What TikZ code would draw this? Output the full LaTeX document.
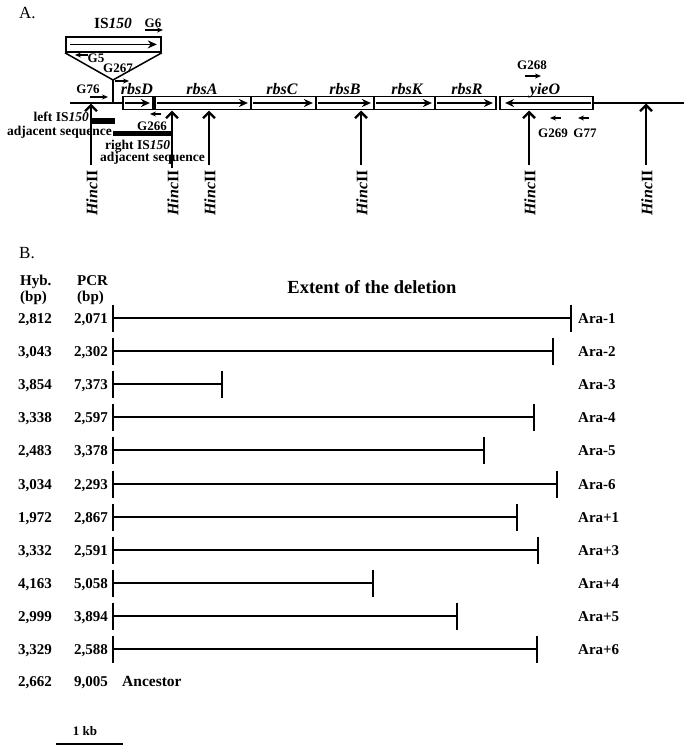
\documentclass[tikz,border=0pt]{standalone}
\usepackage{fontspec}
\setmainfont{Liberation Serif}
\usetikzlibrary{arrows.meta}
\begin{document}
\begin{tikzpicture}[x=1pt,y=-1pt,
  txt/.style={font=\bfseries\fontsize{15}{15}\selectfont, inner sep=0pt},
  ann/.style={font=\bfseries\fontsize{13.5}{13.5}\selectfont, inner sep=0pt},
  prim/.style={font=\bfseries\fontsize{13}{13}\selectfont, inner sep=0pt},
  genelbl/.style={font=\bfseries\itshape\fontsize{16}{16}\selectfont, inner sep=0pt},
  hinclbl/.style={font=\bfseries\fontsize{16}{16}\selectfont, inner sep=0pt, rotate=90},
  genebox/.style={draw, line width=1.8pt, fill=white, minimum height=13pt, inner sep=0pt},
  genearrow/.style={-{Stealth[length=9pt,width=8pt]}, line width=1.4pt},
  primarrow/.style={-{Stealth[length=6pt,width=5pt]}, line width=1.1pt},
  hinc/.style={-{Straight Barb[length=6pt,width=12pt]}, line width=2.4pt},
  chrom/.style={line width=1.8pt},
  del/.style={line width=2pt},
  tickmark/.style={line width=2.6pt}]
\useasboundingbox (0,0) rectangle (691,750);

% ---------------- Section A ----------------
\node[font=\fontsize{17}{17}\selectfont, inner sep=0pt, anchor=base west] (labA) at (19,18) {A.};

% IS150 box and insertion
\node[draw, line width=1.8pt, minimum width=95pt, minimum height=15pt, inner sep=0pt, anchor=north west] (isbox) at (65,36) {};
\draw[genearrow] ([xshift=5pt]isbox.west) -- ([xshift=-5pt]isbox.east);
\node[txt, font=\bfseries\fontsize{15.5}{15.5}\selectfont, anchor=base] (istitle) at (113,28) {IS\textit{150}};
\coordinate (apex) at (113,80);
\coordinate (ins) at (113,103);
\draw[line width=1.5pt] (isbox.south west) -- (apex) -- (isbox.south east);
\draw[line width=1.8pt] (apex) -- (ins);

% chromosome line and genes
\coordinate (chL) at (70,103);
\coordinate (chR) at (684,103);
\foreach \n/\c/\w in {rbsD/138/30, rbsA/203/96, rbsC/283.5/65, rbsB/345/58, rbsK/404.5/61, rbsR/465.5/61, yieO/546.5/93}{
  \node[genebox, minimum width=\w pt] (\n) at (\c,103) {};
}
\draw[chrom] (chL) -- (rbsD.west);
\draw[chrom] (yieO.east) -- (chR);
\foreach \n in {rbsD, rbsA, rbsC, rbsB, rbsK, rbsR}{
  \draw[genearrow] ([xshift=3pt]\n.west) -- ([xshift=-4pt]\n.east);
}
\draw[genearrow] ([xshift=-3pt]yieO.east) -- ([xshift=6pt]yieO.west);

\foreach \n/\c in {rbsD/137, rbsA/202, rbsC/282, rbsB/345, rbsK/407, rbsR/467, yieO/545}{
  \node[genelbl, anchor=base] (l\n) at (\c,94) {\n};
}

% primers
\foreach \nm/\ax/\ay/\bx/\by/\tx/\ty in {G6/145/30/163/30/153/27, G5/88/55/75/55/96/62, G267/115/81/129/81/118/72, G76/90/97/108/97/88/93, G266/161/114/150/114/152/130, G268/525/76/541/76/532/69, G269/561/118/550/118/553/137, G77/589/118/578/118/585/137}{
  \coordinate (\nm a) at (\ax,\ay);
  \coordinate (\nm b) at (\bx,\by);
  \draw[primarrow] (\nm a) -- (\nm b);
  \node[prim, anchor=base] (\nm lbl) at (\tx,\ty) {\nm};
}

% IS150 adjacent sequences
\coordinate (lb1) at (91,121);
\coordinate (lb2) at (115,121);
\coordinate (rb1) at (113,133.5);
\coordinate (rb2) at (173,133.5);
\draw[line width=6pt] (lb1) -- (lb2);
\draw[line width=5pt] (rb1) -- (rb2);
\node[ann, anchor=base east] (leftIS) at (89,121) {left IS\textit{150}};
\node[ann, anchor=base west] (leftadj) at (7,135) {adjacent sequence};
\node[ann, anchor=base west] (rightIS) at (105,149) {right IS\textit{150}};
\node[ann, anchor=base west] (rightadj) at (100,161.5) {adjacent sequence};

% HincII sites
\foreach \k/\x/\tb/\tt in {1/91/165/103.5, 2/172/168/110.5, 3/209/165/110.5, 4/361/165/110.5, 5/529/165/110.5, 6/646/165/103.5}{
  \coordinate (hb\k) at (\x,\tb);
  \coordinate (ht\k) at (\x,\tt);
  \draw[hinc] (hb\k) -- (ht\k);
  \node[hinclbl] (hl\k) at (\x+1,193) {\textit{Hinc}II};
}

% ---------------- Section B ----------------
\node[font=\fontsize{17}{17}\selectfont, inner sep=0pt, anchor=base west] (labB) at (19,258) {B.};
\node[txt, anchor=base west] (hyb) at (20,285) {Hyb.};
\node[txt, anchor=base west] (hybbp) at (20,301) {(bp)};
\node[txt, anchor=base west] (pcr) at (77,285) {PCR};
\node[txt, anchor=base west] (pcrbp) at (77,301) {(bp)};
\node[txt, font=\bfseries\fontsize{18.5}{18.5}\selectfont, anchor=base] (extent) at (372,293) {Extent of the deletion};

\foreach \i/\hyb/\pcr/\e/\lab in {0/{2,812}/{2,071}/571/Ara-1, 1/{3,043}/{2,302}/553/Ara-2, 2/{3,854}/{7,373}/222/Ara-3, 3/{3,338}/{2,597}/534/Ara-4, 4/{2,483}/{3,378}/484/Ara-5, 5/{3,034}/{2,293}/557/Ara-6, 6/{1,972}/{2,867}/517/Ara+1, 7/{3,332}/{2,591}/538/Ara+3, 8/{4,163}/{5,058}/373/Ara+4, 9/{2,999}/{3,894}/457/Ara+5, 10/{3,329}/{2,588}/537/Ara+6}{
  \pgfmathsetmacro\yy{round(318+33.1*\i)}
  \coordinate (s\i) at (113,\yy);
  \coordinate (e\i) at (\e,\yy);
  \draw[tickmark] ([yshift=13.5pt]s\i) -- ([yshift=-13.5pt]s\i);
  \draw[del] (s\i) -- (e\i);
  \draw[tickmark] ([yshift=13.5pt]e\i) -- ([yshift=-13.5pt]e\i);
  \node[txt, anchor=base] (h\i) at (35,\yy+5) {\hyb};
  \node[txt, anchor=base east] (p\i) at (108,\yy+5) {\pcr};
  \node[txt, anchor=base west] (a\i) at (578,\yy+5) {\lab};
}
\node[txt, anchor=base] (hanc) at (35,686) {2,662};
\node[txt, anchor=base east] (panc) at (108,686) {9,005};
\node[txt, font=\bfseries\fontsize{15.5}{15.5}\selectfont, anchor=base west] (anc) at (122,686) {Ancestor};

% scale bar
\coordinate (sb1) at (56,744);
\coordinate (sb2) at (123,744);
\draw[line width=1.5pt] (sb1) -- (sb2);
\node[prim, anchor=base] (kb) at (85,735) {1 kb};
\end{tikzpicture}
\end{document}
